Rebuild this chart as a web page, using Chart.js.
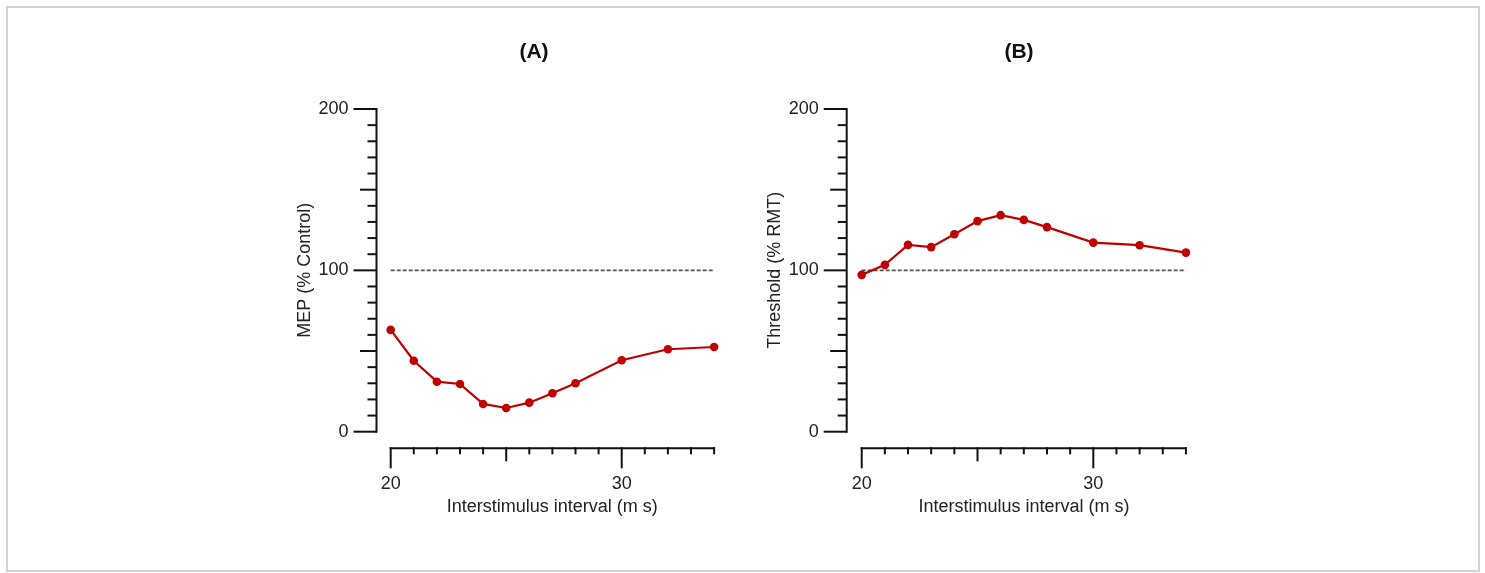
<!DOCTYPE html>
<html><head><meta charset="utf-8">
<script src="https://cdn.jsdelivr.net/npm/chart.js@4.4.0/dist/chart.umd.min.js"></script>
<style>
html,body{margin:0;padding:0;background:#fff;width:1485px;height:573px;overflow:hidden;}
#frame{position:absolute;left:6px;top:6px;width:1474px;height:566px;box-sizing:border-box;border:2px solid #d3d3d3;}
.wrap{position:absolute;top:0;height:573px;}
canvas{display:block;}
</style></head><body>
<div id="frame"></div>
<div class="wrap" style="left:0;width:800px;"><canvas id="ca" width="800" height="573"></canvas></div>
<div class="wrap" style="left:700px;width:785px;"><canvas id="cb" width="785" height="573"></canvas></div>
<script>
// ---- data ----
const intervals = [20, 21, 22, 23, 24, 25, 26, 27, 28, 30, 32, 34];
const mepValues = [63.1, 44.0, 31.0, 29.6, 17.2, 14.7, 18.0, 23.8, 30.0, 44.3, 51.1, 52.5];
const thresholdValues = [97.2, 103.4, 115.8, 114.4, 122.4, 130.5, 134.2, 131.3, 126.8, 117.2, 115.6, 111.0];
const controlRange = [20, 34];
const controlLevel = [100, 100];
const xTickLabels = [20, 30];
const yTickLabels = [0, 100, 200];
const panelTitles = ['(A)', '(B)'];
const yTitles = ['MEP (% Control)', 'Threshold (% RMT)'];
const xTitle = 'Interstimulus interval (m s)';

// ---- style ----
const FONT = "'Liberation Sans', Arial, Helvetica, sans-serif";
const RED = 'rgb(192,0,0)';
const INK = '#222';

const axisPlugin = {
  id: 'prismAxes',
  afterDraw(chart) {
    const ctx = chart.ctx;
    const xs = chart.scales.x, ys = chart.scales.y;
    const yMin = yTickLabels[0], yMax = yTickLabels[yTickLabels.length - 1];
    const xMin = controlRange[0], xMax = controlRange[1];
    ctx.save();
    ctx.strokeStyle = '#111';
    ctx.lineWidth = 2;
    ctx.lineCap = 'butt';
    // y axis
    const ax = chart.chartArea.left;
    const py0 = ys.getPixelForValue(yMin), py1 = ys.getPixelForValue(yMax);
    ctx.beginPath(); ctx.moveTo(ax, py0 + 1); ctx.lineTo(ax, py1 - 1); ctx.stroke();
    for (let v = yMin; v <= yMax; v += 10) {
      const len = v % 100 === 0 ? 23 : (v % 50 === 0 ? 16.5 : 9);
      const p = ys.getPixelForValue(v);
      ctx.beginPath(); ctx.moveTo(ax, p); ctx.lineTo(ax - len, p); ctx.stroke();
    }
    // x axis (offset below plot)
    const ly = chart.chartArea.bottom + 16.6;
    const px0 = xs.getPixelForValue(xMin), px1 = xs.getPixelForValue(xMax);
    ctx.beginPath(); ctx.moveTo(px0 - 1, ly); ctx.lineTo(px1 + 1, ly); ctx.stroke();
    for (let v = xMin; v <= xMax; v += 1) {
      const len = v % 10 === 0 ? 20 : (v % 5 === 0 ? 13 : 6);
      const p = xs.getPixelForValue(v);
      ctx.beginPath(); ctx.moveTo(p, ly - 1); ctx.lineTo(p, ly + len); ctx.stroke();
    }
    ctx.restore();
  }
};

function makePanel(id, values, title, yTitle, L) {
  const canvas = document.getElementById(id);
  const xmin = 20 - (L.x20 - L.axisX) / L.ppu;
  const xmax = 20 + (L.areaRight - L.x20) / L.ppu;
  return new Chart(canvas, {
    type: 'line',
    data: {
      datasets: [
        {
          data: intervals.map((x, i) => ({x: x, y: values[i]})),
          borderColor: RED, backgroundColor: RED, borderWidth: 2.2,
          pointRadius: 4.3, pointHoverRadius: 4.3, pointBorderWidth: 0,
          pointBackgroundColor: RED, tension: 0, order: 0, yAxisID: 'y'
        },
        {
          data: controlRange.map((x, i) => ({x: x, y: controlLevel[i]})),
          borderColor: '#555', borderWidth: 1.8, borderDash: [4, 2],
          pointRadius: 0, pointHoverRadius: 0, order: 1, yAxisID: 'y'
        }
      ]
    },
    options: {
      responsive: false, animation: false, events: [],
      layout: {padding: {left: L.padL, right: L.padR, top: 0, bottom: 55.2}},
      plugins: {
        legend: {display: false},
        tooltip: {enabled: false},
        title: {
          display: true, text: title, color: '#111',
          font: {family: FONT, size: 21, weight: 'bold'},
          padding: {top: 39.4, bottom: 44.4}
        }
      },
      scales: {
        x: {
          type: 'linear', min: xmin, max: xmax,
          afterBuildTicks: s => { s.ticks = xTickLabels.map(v => ({value: v})); },
          afterFit: s => { s.height = 86.1; },
          grid: {display: true, drawOnChartArea: false, drawTicks: true, tickLength: 36.5,
                 tickColor: 'rgba(0,0,0,0)', color: 'rgba(0,0,0,0)'},
          border: {display: false},
          ticks: {padding: 5, color: INK, font: {family: FONT, size: 18}, maxRotation: 0, autoSkip: false},
          title: {display: true, text: xTitle, color: INK, font: {family: FONT, size: 18}, padding: {top: 0, bottom: 0}}
        },
        y: {
          type: 'linear', position: 'left', min: yTickLabels[0], max: yTickLabels[yTickLabels.length - 1],
          afterBuildTicks: s => { s.ticks = yTickLabels.map(v => ({value: v})); },
          afterFit: s => { s.width = L.axisX - L.padL; },
          grid: {display: true, drawOnChartArea: false, drawTicks: true, tickLength: 23,
                 tickColor: 'rgba(0,0,0,0)', color: 'rgba(0,0,0,0)'},
          border: {display: false},
          ticks: {padding: 5, color: INK, font: {family: FONT, size: 18}, autoSkip: false},
          title: {display: true, text: yTitle, color: INK, font: {family: FONT, size: 18},
                  padding: {top: L.yTitleX - L.padL - 10.8, bottom: 0}}
        },
        spacer: {
          type: 'linear', position: 'right', display: true,
          afterFit: s => { s.width = L.spacer; },
          grid: {display: false}, border: {display: false},
          ticks: {display: false}, title: {display: false}
        }
      }
    },
    plugins: [axisPlugin]
  });
}

makePanel('ca', mepValues, panelTitles[0], yTitles[0],
  {padL: 300, padR: 32, spacer: 40, areaRight: 728, axisX: 376.5, x20: 390.7, ppu: 23.1, yTitleX: 305});
makePanel('cb', thresholdValues, panelTitles[1], yTitles[1],
  {padL: 70, padR: 217, spacer: 66.7, areaRight: 501.3, axisX: 146.7, x20: 161.7, ppu: 23.16, yTitleX: 75});
</script>
</body></html>
